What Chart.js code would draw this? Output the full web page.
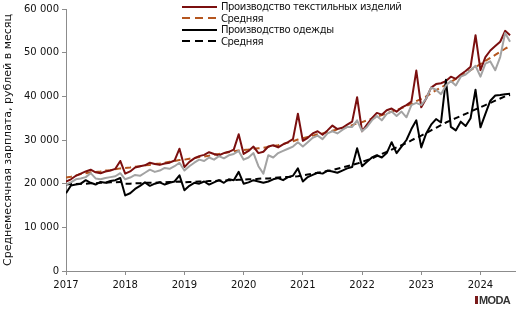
<!DOCTYPE html>
<html>
<head>
<meta charset="utf-8">
<script src="https://cdn.jsdelivr.net/npm/chart.js@4/dist/chart.umd.min.js"></script>
<style>
    body { margin: 0; background: #fff; }
    #wrap { position: relative; width: 520px; height: 313px; }
    #legend { position: absolute; left: 182px; top: 1px; font: 10px "DejaVu Sans", sans-serif; color: #111; }
    .row { height: 11.5px; display: flex; align-items: center; }
    .row span { margin-left: 4px; letter-spacing: -0.4px; }
    #logo { position: absolute; left: 475px; top: 294px; font: bold 11px "Liberation Sans", sans-serif; color: #333; letter-spacing: -0.6px; }
    #logo i { display: inline-block; width: 3px; height: 8px; background: #7a1a1a; margin-right: 1px; }
</style>
</head>
<body>
<div id="wrap">
    <canvas id="wageChart" width="520" height="313"></canvas>
    <div id="legend"></div>
    <div id="logo"><i></i>MODA</div>
</div>
<script>
// monthly data, Jan 2017 .. Jul 2024
const years = ["2017", "2018", "2019", "2020", "2021", "2022", "2023", "2024"];

const textile = [
    20500, 21000, 21800, 22300, 22800, 23200, 22600, 22400, 22800, 23000, 23400, 25200,
    22300, 22800, 23700, 24000, 24200, 24800, 24500, 24300, 24600, 24800, 25300, 28000,
    23800, 25000, 25800, 26300, 26600, 27200, 26800, 26500, 27000, 27300, 27800, 31300,
    26800, 27500, 28500, 27000, 27300, 28500, 28800, 28300, 29000, 29500, 30200, 36000,
    29800, 30500, 31500, 32000, 31200, 32200, 33300, 32500, 32800, 33500, 34200, 39800,
    32000, 33500, 35000, 36200, 35800, 36800, 37200, 36500, 37400, 38000, 38800, 45900,
    37500, 39500, 42000, 42800, 43000, 43500, 44500, 44000, 45000, 45800, 46800, 54000,
    46000, 49000, 50500, 51500, 52500, 55000, 54000,
];
const textileAvg = [
    21400, 21600, 21900, 22200, 22400, 22600, 22700, 22800, 23000, 23100, 23300, 23500,
    23600, 23700, 23900, 24000, 24200, 24300, 24500, 24600, 24800, 25000, 25200, 25400,
    25500, 25700, 25900, 26100, 26200, 26400, 26600, 26800, 27000, 27200, 27400, 27600,
    27700, 27800, 28000, 28100, 28200, 28400, 28600, 28800, 29100, 29400, 29700, 30100,
    30400, 30700, 31000, 31300, 31500, 31800, 32100, 32400, 32700, 33000, 33400, 33800,
    34100, 34500, 34900, 35300, 35700, 36100, 36500, 36900, 37300, 37800, 38300, 38900,
    39400, 40000, 40700, 41400, 42000, 42700, 43300, 44000, 44700, 45300, 46000, 46700,
    47400, 48100, 48800, 49500, 50200, 50900, 51500,
];
const other = [
    19800, 20300, 21000, 21200, 21500, 22400, 21200, 21000, 21300, 21500, 21700, 22400,
    21000, 21400, 22000, 21800, 22500, 23200, 22700, 23000, 23600, 23400, 24000, 24800,
    23000, 24000, 24800, 25500, 25200, 26000, 25500, 26300, 25800, 26500, 26800, 27500,
    25500, 26000, 27000, 24000, 22300, 26500, 26000, 27000, 27500, 28000, 28500, 29500,
    28500, 29500, 30500, 31000, 30200, 31500, 32000, 31500, 32300, 33000, 33000, 34500,
    32000, 33000, 34500, 35500, 34500, 36000, 36500, 35500, 36500, 35200, 38000, 38500,
    38000, 39500, 42000, 41500, 40500, 42500, 43500, 42500, 44500, 45000, 46000, 47000,
    44500, 47500, 48000, 46000, 49000, 54500, 52500,
];
const clothing = [
    17800, 19600, 19800, 20000, 20800, 20200, 19800, 20400, 20200, 20600, 20800, 21300,
    17300, 17800, 18800, 19500, 20300, 19500, 20000, 20300, 19800, 20200, 20500, 21900,
    18500, 19500, 20200, 20000, 20500, 19800, 20300, 20800, 20200, 21000, 20800, 22700,
    20000, 20300, 20800, 20500, 20200, 20500, 21000, 21300, 20800, 21500, 21800, 23500,
    20500, 21500, 22000, 22500, 22300, 23000, 22800, 22500, 23000, 23500, 23800, 28100,
    24000, 25000, 26000, 26500, 26000, 27000, 29500, 27000, 28500, 30000, 32500, 34500,
    28300, 31500, 33500, 34800, 34000, 43800, 33000, 32200, 34200, 33200, 35000, 41500,
    32900, 36000, 39000, 40200, 40300, 40500, 40600,
];
const clothingAvg = [
    19800, 19900, 19900, 20000, 20000, 20100, 20100, 20200, 20200, 20300, 20300, 20400,
    20000, 20000, 20100, 20100, 20200, 20200, 20200, 20300, 20300, 20400, 20400, 20500,
    20300, 20400, 20400, 20500, 20500, 20600, 20600, 20700, 20700, 20800, 20800, 20900,
    20900, 21000, 21000, 21100, 21200, 21200, 21300, 21400, 21500, 21500, 21600, 21700,
    21900, 22100, 22300, 22500, 22700, 22900, 23100, 23400, 23700, 24000, 24300, 24600,
    25000, 25400, 25800, 26300, 26800, 27300, 27800, 28300, 28800, 29300, 29900, 30500,
    31000, 31600, 32200, 32800, 33400, 34000, 34500, 35000, 35500, 36000, 36500, 37000,
    37500, 38000, 38500, 39000, 39500, 40000, 40300,
];

const pts = (arr) => arr.map((v, i) => ({ x: i, y: v }));
const axisColor = "#8c8c8c";
const font = { family: "'DejaVu Sans', sans-serif", size: 10 };

const chart = new Chart(document.getElementById("wageChart"), {
    type: "line",
    data: {
        datasets: [
            { label: "", data: pts(other), borderColor: "#a3a3a3", borderWidth: 2 },
            { label: "Производство одежды", data: pts(clothing), borderColor: "#000000", borderWidth: 2 },
            { label: "Средняя", data: pts(clothingAvg), borderColor: "#000000", borderWidth: 2, borderDash: [6, 4] },
            { label: "Производство текстильных изделий", data: pts(textile), borderColor: "#7b0f0f", borderWidth: 2 },
            { label: "Средняя", data: pts(textileAvg), borderColor: "#b5561f", borderWidth: 2, borderDash: [6, 4] },
        ],
    },
    options: {
        responsive: false,
        animation: false,
        elements: { point: { radius: 0 }, line: { tension: 0, borderJoinStyle: "round" } },
        layout: { padding: { top: 8, right: 5, left: 2, bottom: 0 } },
        plugins: { legend: { display: false }, tooltip: { enabled: false } },
        scales: {
            x: {
                type: "linear",
                min: 0,
                max: 91,
                afterFit: (s) => { s.height = 42; },
                afterBuildTicks: (s) => { s.ticks = years.map((y, i) => ({ value: i * 12 })); },
                ticks: {
                    color: "#111",
                    font: font,
                    maxRotation: 0,
                    autoSkip: false,
                    padding: 4,
                    callback: (v) => years[v / 12],
                },
                grid: { drawOnChartArea: false, color: axisColor, tickLength: 4 },
                border: { color: axisColor },
            },
            y: {
                min: 0,
                max: 60000,
                afterFit: (s) => { s.width = 64; },
                ticks: {
                    stepSize: 10000,
                    color: "#111",
                    font: font,
                    padding: 3,
                    callback: (v) => String(v).replace(/\B(?=(\d{3})+(?!\d))/g, " "),
                },
                grid: { drawOnChartArea: false, color: axisColor, tickLength: 4 },
                border: { color: axisColor },
                title: {
                    display: true,
                    text: "Среднемесячная зарплата, рублей в месяц",
                    color: "#111",
                    font: { family: "'DejaVu Sans', sans-serif", size: 11 },
                    padding: { top: 0, bottom: 2 },
                },
            },
        },
    },
});

// legend (order as in the reference)
const legendOrder = [3, 4, 1, 2];
const legendEl = document.getElementById("legend");
legendOrder.forEach((idx) => {
    const ds = chart.data.datasets[idx];
    const row = document.createElement("div");
    row.className = "row";
    const c = document.createElement("canvas");
    c.width = 35; c.height = 6;
    const ctx = c.getContext("2d");
    ctx.strokeStyle = ds.borderColor;
    ctx.lineWidth = 2;
    if (ds.borderDash) ctx.setLineDash([8, 5]);
    ctx.beginPath(); ctx.moveTo(0, 3); ctx.lineTo(35, 3); ctx.stroke();
    row.appendChild(c);
    const t = document.createElement("span");
    t.textContent = ds.label;
    row.appendChild(t);
    legendEl.appendChild(row);
});
</script>
</body>
</html>
